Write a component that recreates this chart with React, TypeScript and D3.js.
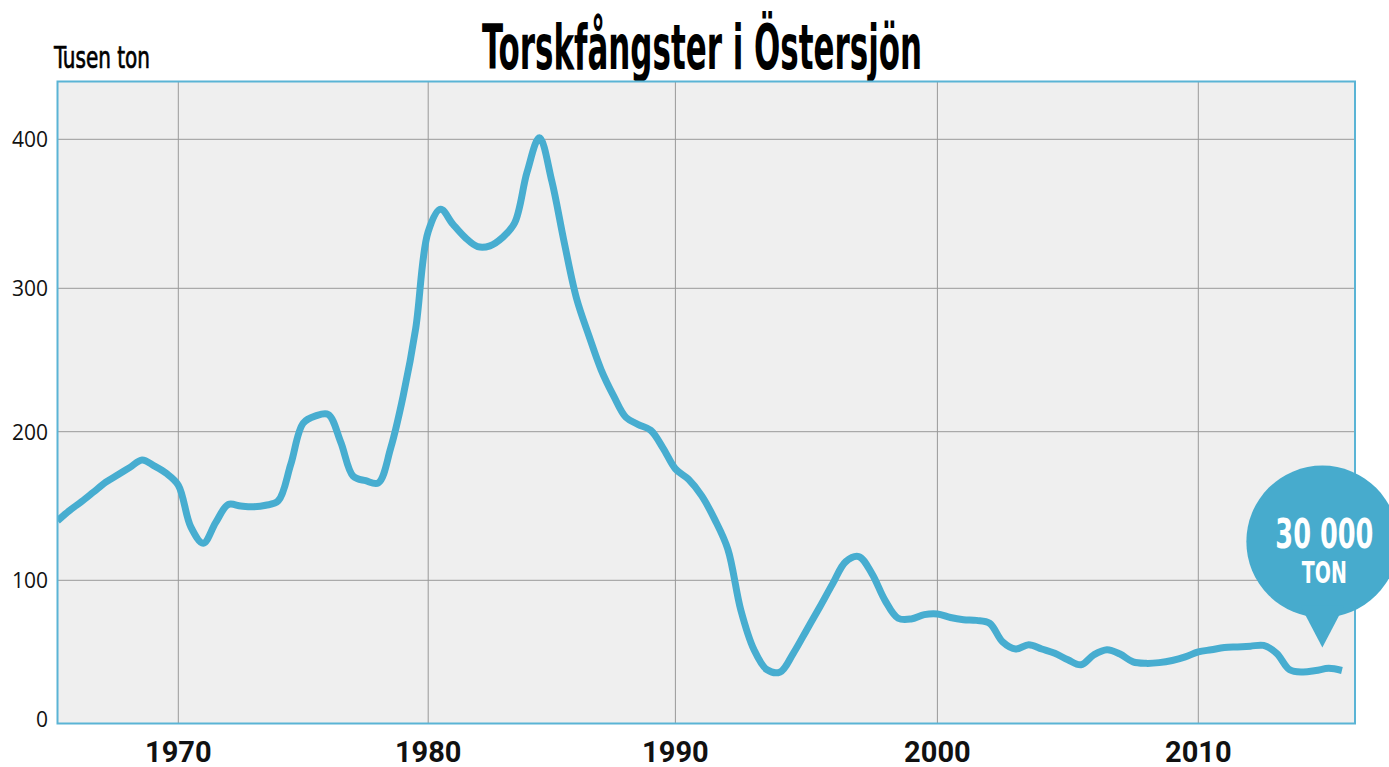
import * as d3 from 'd3';

// Torskfångster i Östersjön, tusen ton (half-year steps)
const years = [
  1965, 1965.5, 1966, 1966.5, 1967, 1967.5, 1968, 1968.5, 1969, 1969.5,
  1970, 1970.5, 1971, 1971.5, 1972, 1972.5, 1973, 1973.5, 1974, 1974.5,
  1975, 1975.5, 1976, 1976.5, 1977, 1977.5, 1978, 1978.5, 1979, 1979.5,
  1980, 1980.5, 1981, 1981.5, 1982, 1982.5, 1983, 1983.5, 1984, 1984.5,
  1985, 1985.5, 1986, 1986.5, 1987, 1987.5, 1988, 1988.5, 1989, 1989.5,
  1990, 1990.5, 1991, 1991.5, 1992, 1992.5, 1993, 1993.5, 1994, 1994.5,
  1995, 1995.5, 1996, 1996.5, 1997, 1997.5, 1998, 1998.5, 1999, 1999.5,
  2000, 2000.5, 2001, 2001.5, 2002, 2002.5, 2003, 2003.5, 2004, 2004.5,
  2005, 2005.5, 2006, 2006.5, 2007, 2007.5, 2008, 2008.5, 2009, 2009.5,
  2010, 2010.5, 2011, 2011.5, 2012, 2012.5, 2013, 2013.5, 2014, 2014.5,
  2015, 2015.5,
];

const catches = [
  140, 147, 153, 159.5, 166, 171, 176, 181, 177, 172,
  164, 136, 125, 139, 151, 150, 149.5, 150.5, 153.5, 178,
  206, 211, 212, 193, 170, 167, 165.5, 189, 225, 272,
  338, 353, 343, 334, 328, 328.5, 334, 344, 378, 401,
  372, 331, 293, 267, 243, 225, 210, 205, 201, 189,
  175, 168, 157, 141, 121, 79, 51.5, 37.5, 36, 49,
  65, 81, 97.5, 112.5, 116, 104.5, 86, 73.5, 73, 76,
  76.5, 74, 72.5, 72, 70, 57, 52, 55, 52, 49,
  44.5, 41, 48, 51.5, 48.5, 43, 42, 42.5, 44, 46.5,
  50, 51.5, 53, 53.5, 54, 54.5, 49, 37.5, 36, 37,
  38.5, 37,
];

const xTicks = [1970, 1980, 1990, 2000, 2010];
const yTicks = [0, 100, 200, 300, 400];

// the source chart's grid is not evenly spaced, so the scales are piecewise
const xBreaks = [1965, 1970, 1980, 1990, 2000, 2010, 2016];
const xStops = [57.5, 178.3, 428.2, 675.4, 937.4, 1198.3, 1355];
const yBreaks = [0, 100, 200, 300, 400];
const yStops = [723.5, 580.3, 431.7, 288.3, 139.3];

const calloutYear = 2014.75;
const calloutValue = 53;

const WIDTH = 1389;
const HEIGHT = 767;
const PLOT = { left: 57.5, right: 1355, top: 81.5, bottom: 723.5 };
const BLUE = '#47add0';
const CONDENSED = '"Liberation Sans Narrow", "DejaVu Sans Condensed", sans-serif';

export default function App() {
  const x = d3.scaleLinear().domain(xBreaks).range(xStops);
  const y = d3.scaleLinear().domain(yBreaks).range(yStops);

  const data = years.map((yr, i) => ({ year: yr, value: catches[i] }));

  const line = d3
    .line<{ year: number; value: number }>()
    .x((d) => x(d.year))
    .y((d) => y(d.value))
    .curve(d3.curveCatmullRom.alpha(0.5));

  const tipX = x(calloutYear);
  const tipY = y(calloutValue);
  const r = 76;
  const cy = tipY - 106;

  return (
    <div style={{ position: 'absolute', left: 0, top: 0 }}>
      <svg width={WIDTH} height={HEIGHT} style={{ display: 'block' }}>
        <defs>
          <clipPath id="plot-clip">
            <rect
              x={PLOT.left}
              y={PLOT.top}
              width={PLOT.right - PLOT.left}
              height={PLOT.bottom - PLOT.top}
            />
          </clipPath>
        </defs>

        <rect x={0} y={0} width={WIDTH} height={HEIGHT} fill="#ffffff" />

        <text
          x={702}
          y={69}
          textAnchor="middle"
          textLength={440}
          lengthAdjust="spacingAndGlyphs"
          style={{ fontFamily: CONDENSED, fontWeight: 700, fontSize: 62 }}
          fill="#000"
        >
          Torskfångster i Östersjön
        </text>

        <text
          x={54}
          y={68}
          textLength={96}
          lengthAdjust="spacingAndGlyphs"
          style={{ fontFamily: CONDENSED, fontSize: 31 }}
          fill="#000"
          stroke="#000"
          strokeWidth={0.7}
        >
          Tusen ton
        </text>

        <rect
          x={PLOT.left}
          y={PLOT.top}
          width={PLOT.right - PLOT.left}
          height={PLOT.bottom - PLOT.top}
          fill="#efefef"
        />

        <g stroke="#999" strokeWidth={1}>
          {xTicks.map((t) => (
            <line key={`gx${t}`} x1={x(t)} x2={x(t)} y1={PLOT.top} y2={PLOT.bottom} />
          ))}
          {yTicks.filter((t) => t > 0).map((t) => (
            <line key={`gy${t}`} x1={PLOT.left} x2={PLOT.right} y1={y(t)} y2={y(t)} />
          ))}
        </g>

        <path
          d={line(data) || ''}
          fill="none"
          stroke={BLUE}
          strokeWidth={7}
          strokeLinejoin="round"
          strokeLinecap="butt"
          clipPath="url(#plot-clip)"
        />

        <rect
          x={PLOT.left}
          y={PLOT.top}
          width={PLOT.right - PLOT.left}
          height={PLOT.bottom - PLOT.top}
          fill="none"
          stroke="#5ab4d5"
          strokeWidth={2}
        />

        <g style={{ fontFamily: '"Open Sans", sans-serif', fontSize: 21 }} fill="#111">
          {yTicks.map((t) => (
            <text
              key={`yl${t}`}
              x={48}
              y={Math.min(y(t), PLOT.bottom - 4.5)}
              textAnchor="end"
              dominantBaseline="central"
            >
              {t}
            </text>
          ))}
        </g>

        <g style={{ fontFamily: 'Roboto, sans-serif', fontWeight: 700, fontSize: 29 }} fill="#111">
          {xTicks.map((t) => (
            <text key={`xl${t}`} x={x(t)} y={762} textAnchor="middle">
              {t}
            </text>
          ))}
        </g>

        {/* callout bubble */}
        <g fill="#47abcd">
          <circle cx={tipX} cy={cy} r={r} />
          <path d={`M${tipX - 22},${cy + 64} L${tipX + 22},${cy + 64} L${tipX},${tipY} Z`} />
        </g>
        <g style={{ fontFamily: CONDENSED, fontWeight: 700 }} fill="#fff" textAnchor="middle">
          <text x={tipX + 2} y={cy + 6} fontSize={40} textLength={98} lengthAdjust="spacingAndGlyphs">
            30 000
          </text>
          <text x={tipX + 2} y={cy + 41} fontSize={31} textLength={45} lengthAdjust="spacingAndGlyphs">
            TON
          </text>
        </g>
      </svg>
    </div>
  );
}
